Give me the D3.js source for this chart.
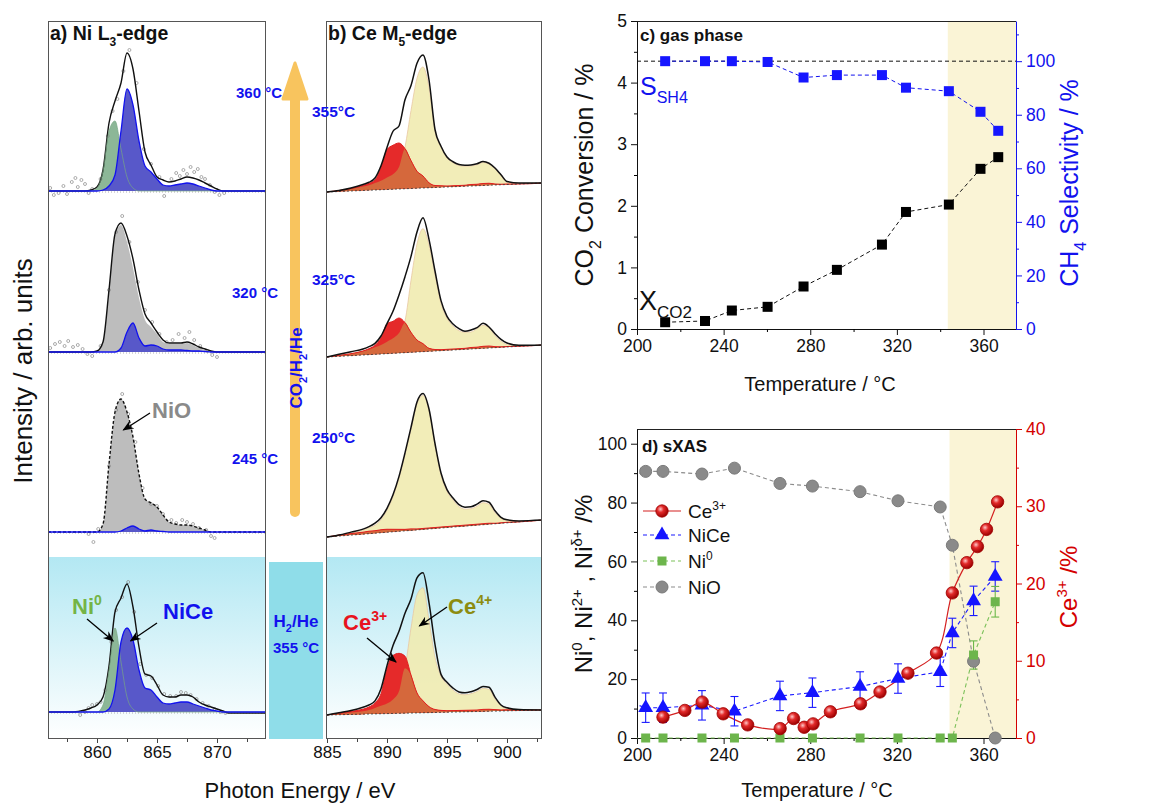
<!DOCTYPE html>
<html>
<head>
<meta charset="utf-8">
<script src="https://cdn.jsdelivr.net/npm/d3@7"></script>
<style>
body { margin: 0; background: #fff; }
svg text { font-family: Arial, "Liberation Sans", Helvetica, sans-serif; }
</style>
</head>
<body>
<svg id="fig" width="1174" height="803"></svg>
<script>
/* === a) Ni L3-edge : photon energy (eV) / intensity (arb. units) === */
var niEnergy = [855.5, 858, 859, 859.5, 860, 860.5, 861, 861.5, 862, 862.5, 863, 863.5, 864, 864.5, 865, 865.5, 866, 866.5, 867, 867.5, 868, 868.5, 869, 869.5, 870, 870.5, 871, 874.5];

var ni360Total = [0,0,0,1,4,21,68,90,108,138,122,80,39,26,14,11,9,10,12,14,13,11,8,5,2,0,0,0];
var ni360Ni0   = [0,0,0,0,3,20,60,70,42,14,3,0,0,0,0,0,0,0,0,0,0,0,0,0,0,0,0,0];
var ni360NiCe  = [0,0,0,0,0,1,5,16,60,102,86,50,25,19,12,6,5,6,7,8,7,5,3,1,0,0,0,0];

var ni320Total = [0,0,0,0,1,10,62,118,129,116,93,62,38,29,20,12,9,9,9,10,8,5,3,1,0,0,0,0];
var ni320NiO   = [0,0,0,0,1,10,60,116,127,110,84,54,32,25,18,10,8,8,8,9,7,4,2,1,0,0,0,0];
var ni320NiCe  = [0,0,0,0,0,0,0,0,4,20,29,14,6,7,6,3,2,2,2,1.5,1,1,0.5,0,0,0,0,0];

var ni245Total = [0,0,0,0,0,8,68,120,133,120,95,58,33,29,25,17,10,8,7,7,6,4,2,0,0,0,0,0];
var ni245NiCe  = [0,0,0,0,0,0,0,0,1,4,6,3,1,2,1,0.5,0,0,0,0,0,0,0,0,0,0,0,0];

var niH2Total  = [0,0,2,4,7,15,46,100,114,128,105,65,38,36,27,17,15,15,17,17,15,10,7,5,3,1,-1,-1];
var niH2Ni0    = [0,0,0,0,0,7,42,84,50,15,3,0,0,0,0,0,0,0,0,0,0,0,0,0,0,0,0,0];
var niH2NiCe   = [0,0,0,0,0,0,3,22,70,84,72,42,24,22,15,9,8,9,10,10,8,6,4,2,1,0,0,0];

// measured points [eV, intensity]
var ni360Dots = [[856.1,3],[856.4,-4],[856.8,-2],[857.2,5],[857.5,-3],[857.9,9],[858.2,13],[858.4,4],[858.7,11],[859,7],[859.3,-2],[859.6,2],[860.3,12],[860.9,55],[861.3,80],[861.7,92],[862.2,120],[862.7,141],[863.3,108],[863.9,42],[864.5,27],[865.2,14],[865.6,-5],[866.2,12],[866.6,18],[866.9,15],[867.2,21],[867.5,17],[867.8,24],[868.1,19],[868.4,22],[868.7,14],[869,12],[869.4,6],[869.8,-1],[870.2,-4],[870.6,-2]];
var ni320Dots = [[856.1,4],[856.5,8],[856.9,10],[857.3,6],[857.6,11],[858,5],[858.4,7],[858.8,3],[859.2,-2],[859.6,-4],[860.3,6],[861,62],[861.6,120],[862.1,136],[862.7,110],[863.4,70],[864,42],[864.6,30],[865.2,18],[865.8,10],[866.3,12],[866.8,18],[867.3,14],[867.7,20],[868.1,12],[868.6,6],[869.2,1],[869.6,-3],[870,-5]];
var ni245Dots = [[859.3,-2],[859.7,-10],[860.1,3],[861,66],[861.6,122],[862.1,138],[862.6,118],[863.2,90],[863.8,44],[864.5,28],[865,26],[865.5,18],[866.2,12],[866.6,9],[867.1,12],[867.5,10],[868,8],[868.5,4],[869.1,2],[869.5,-4],[869.8,-6]];
var niH2Dots  = [[858.6,-3],[859,0],[859.3,4],[859.6,7],[860,8],[860.3,10],[860.7,22],[861.2,70],[861.6,102],[862.1,115],[862.6,130],[863.1,100],[863.6,48],[864.1,37],[864.6,34],[865.1,26],[865.6,18],[866.1,16],[866.6,16],[867,20],[867.4,19],[867.8,17],[868.3,13],[868.8,9],[869.3,6],[869.8,3],[870.3,0],[870.7,-1]];

/* === b) Ce M5-edge === */
var ceEnergy = [885, 886, 887, 888, 888.5, 889, 889.5, 890, 890.5, 891, 891.5, 892, 892.5, 893, 893.5, 894, 894.5, 895, 895.5, 896, 896.5, 897, 897.5, 898, 898.5, 899, 899.5, 900, 901, 903];

var ce355Total = [0,1,3,6,8,12,24,42,58,63,89,103,125,133,108,58,41,30,25,22,21,21,22,24,22,17,10,3,1,0];
var ce355Ce4   = [0,1,2,4,5,7,9,12,15,22,42,78,110,121,100,56,40,29,24,21,20,20,21,23,21,16,9,2,0.5,0];
var ce355Ce3   = [0,1,2.5,5,7,10,22,40,44,46,40,28,17,12,5,2,1.5,1,1,1,1,1.5,1.5,2,2,1,0.5,0.5,0,0];

var ce325Total = [0,2,4,6,8,11,18,30,42,58,76,96,120,134,112,80,50,34,26,21,18,19,21,25,21,14,8,4,1,0];
var ce325Ce4   = [0,1,2,4,5,7,9,12,15,20,32,72,108,123,106,76,47,32,24,19,17,17,20,23,20,12,6,2.5,0.5,0];
var ce325Ce3   = [0,1,2,4,6,9,16,30,32,35,30,20,12,8,3,1.5,1,1,1,1,1,1.5,1.5,2,2,1,0.5,0.5,0,0];

var ce250Total = [0,1,3,5,7,10,15,24,37,55,78,103,128,136,120,85,55,38,29,22,19,19,21,24,22,13,6,3,1,0];
var ce250Ce4   = [0,1,2,4,6,8,13,22,35,53,76,101,126,134,118,83,53,36,27,20,17,17,19,22,20,11,5,2,0.5,0];
var ce250Ce3   = [0,1,1.5,2,2.5,2.5,3,3,2.5,2,1.5,1.5,1,1,1,1,1,1,1,1,1,1,1,1,1,0.5,0.5,0.5,0,0];

var ceH2Total  = [0,2,4,7,9,13,25,48,68,82,100,114,135,140,110,68,38,30,24,20,19,20,22,25,24,14,6,3,1,0];
var ceH2Ce4    = [0,1,2,3,4,6,8,10,14,22,45,85,118,125,92,55,36,28,22,18,17,18,20,23,22,12,5,2,0.5,0];
var ceH2Ce3    = [0,1.5,3,5,7,11,20,45,58,60,57,38,20,12,6,3,2,1.5,1.5,1.5,1.5,1.5,1.5,2,2,1.5,1,1,0.5,0];

// linear background rise from 885 to 903 eV
var ceBgRise = [9, 12, 17, 5];

/* === c) gas phase === */
var gasTemp = [213, 231.4, 243.8, 260.3, 276.9, 292.3, 313.1, 324.2, 344, 358.6, 366.8];
var co2Conv = [0.11, 0.13, 0.30, 0.36, 0.69, 0.96, 1.37, 1.90, 2.02, 2.60, 2.79];
var ch4Sel  = [100, 100, 100, 99.7, 93.9, 94.8, 94.8, 90.1, 88.8, 81.1, 74.0];
var shadeC  = [343.5, 375];

/* === d) sXAS === */
var xasTemp = [192, 204, 212, 230, 245, 266, 281, 303, 320.5, 340, 345.6, 355.4, 365.4];
var niO     = [87.6, 90.6, 90.6, 89.7, 91.7, 86.5, 85.6, 83.7, 80.6, 78.5, 65.5, 26.1, 0];
var niCe    = [13.3, 10.3, 10.3, 11.1, 9.1, 14.3, 15.4, 17.5, 20.2, 22.5, 35.7, 46.6, 54.9];
var niCeErr = [5, 5, 5, 5, 5, 5, 5, 5, 5, 5, 5, 5, 5];
var ni0     = [0, 0, 0, 0, 0, 0, 0, 0, 0, 0, 0, 28.2, 46.3];
var ni0Err  = [0, 0, 0, 0, 0, 0, 0, 0, 0, 0, 0, 4.8, 5.2];
var ceTemp  = [212, 222.1, 230.1, 239.8, 251.1, 266.1, 272.3, 277.2, 281.3, 289.3, 303.2, 312.2, 325.1, 338.3, 345.6, 352.3, 357.2, 361.4, 366.5];
var ce3Frac = [2.7, 3.57, 4.65, 3.13, 1.70, 1.22, 2.52, 1.39, 1.83, 3.39, 4.43, 5.96, 8.39, 11.0, 18.78, 22.7, 24.78, 27.0, 30.57];
var shadeD  = [344.3, 375];


var svg = d3.select("#fig");
var defs = svg.append("defs");
var BLUE = "#1212ee";

defs.append("marker").attr("id", "arr").attr("viewBox", "0 0 10 10")
  .attr("refX", 9).attr("refY", 5).attr("markerWidth", 11).attr("markerHeight", 11)
  .attr("markerUnits", "userSpaceOnUse").attr("orient", "auto")
  .append("path").attr("d", "M0,1 L10,5 L0,9 L3,5 z").attr("fill", "#000");

var grad = defs.append("linearGradient").attr("id", "h2bg")
  .attr("x1", 0).attr("y1", 0).attr("x2", 0).attr("y2", 1);
grad.append("stop").attr("offset", "0%").attr("stop-color", "#b3e8f3");
grad.append("stop").attr("offset", "100%").attr("stop-color", "#ffffff");

var ball = defs.append("radialGradient").attr("id", "ball")
  .attr("cx", "38%").attr("cy", "35%").attr("r", "65%");
ball.append("stop").attr("offset", "0%").attr("stop-color", "#ffc8c8");
ball.append("stop").attr("offset", "40%").attr("stop-color", "#e22a2a");
ball.append("stop").attr("offset", "100%").attr("stop-color", "#9c0000");

defs.append("clipPath").attr("id", "clipA").append("rect").attr("x", 48).attr("y", 21).attr("width", 218).attr("height", 718);
defs.append("clipPath").attr("id", "clipB").append("rect").attr("x", 326).attr("y", 21).attr("width", 216).attr("height", 718);
defs.append("clipPath").attr("id", "clipD").append("rect").attr("x", 637).attr("y", 400).attr("width", 379).attr("height", 360);

// text with sub/superscripts : parts = [[text, "sub"|"sup"|undefined], ...]
function label(x, y, parts, fs, color, weight, anchor, rot) {
  var t = svg.append("text")
    .attr("font-size", fs).attr("fill", color || "#000")
    .attr("font-weight", weight || "normal")
    .attr("text-anchor", anchor || "start");
  if (rot) t.attr("transform", "translate(" + x + "," + y + ") rotate(" + rot + ")");
  else t.attr("x", x).attr("y", y);
  if (typeof parts === "string") parts = [[parts]];
  var shift = 0;
  parts.forEach(function(p) {
    var s = p[1] === "sub" ? 0.3 : (p[1] === "sup" ? -0.42 : 0);
    var ts = t.append("tspan").text(p[0]);
    if (s !== shift) ts.attr("dy", ((s - shift) * fs).toFixed(1));
    if (p[1]) ts.attr("font-size", Math.round(fs * 0.62));
    shift = s;
  });
  return t;
}

function styleAxis(g, color, fs) {
  g.attr("font-family", null).attr("font-size", fs);
  g.selectAll("path.domain").attr("stroke", color);
  g.selectAll(".tick line").attr("stroke", color);
  g.selectAll(".tick text").attr("fill", color);
  return g;
}
function minor(axis, vals, size) {
  return axis.tickValues(vals).tickSize(size).tickFormat("").tickSizeOuter(0);
}
var fmt = d3.format("d");


/* ================= a) + b) spectra ================= */

var xA = d3.scaleLinear().domain([860, 870]).range([97, 217]);
var xB = d3.scaleLinear().domain([890, 900]).range([387, 507]);
var slotA = [191, 352, 532, 712];
var slotB = [192, 357, 537, 715];

// H2/He backgrounds
svg.append("rect").attr("x", 48).attr("y", 557).attr("width", 218).attr("height", 182).attr("fill", "url(#h2bg)");
svg.append("rect").attr("x", 326).attr("y", 557).attr("width", 216).attr("height", 182).attr("fill", "url(#h2bg)");
svg.append("rect").attr("x", 269).attr("y", 562).attr("width", 54).attr("height", 177).attr("fill", "#8fdde9");

var specA = [
  {total: ni360Total, dash: null, dots: ni360Dots,
   parts: [{v: ni360Ni0, fill: "#8cb797", stroke: "#77a683"}, {v: ni360NiCe, fill: "#5858c9", stroke: BLUE}]},
  {total: ni320Total, dash: null, dots: ni320Dots,
   parts: [{v: ni320NiO, fill: "#bdbdbd", stroke: "none"}, {v: ni320NiCe, fill: "#5858c9", stroke: BLUE}]},
  {total: ni245Total, dash: "3,2", dots: ni245Dots,
   parts: [{v: ni245Total, fill: "#bdbdbd", stroke: "none"}, {v: ni245NiCe, fill: "#5858c9", stroke: BLUE}]},
  {total: niH2Total, dash: null, dots: niH2Dots,
   parts: [{v: niH2Ni0, fill: "#8cb797", stroke: "#77a683"}, {v: niH2NiCe, fill: "#5858c9", stroke: BLUE}]}
];

var gA = svg.append("g").attr("clip-path", "url(#clipA)");
specA.forEach(function(s, k) {
  var y = d3.scaleLinear().domain([0, 150]).range([slotA[k], slotA[k] - 150]);
  var area = d3.area().x(function(d, i) { return xA(niEnergy[i]); })
    .y0(y(0)).y1(function(d) { return y(d); }).curve(d3.curveMonotoneX);
  var line = d3.line().x(function(d, i) { return xA(niEnergy[i]); })
    .y(function(d) { return y(d); }).curve(d3.curveMonotoneX);

  gA.append("line").attr("x1", 48).attr("x2", 266).attr("y1", y(0) + 1).attr("y2", y(0) + 1)
    .attr("stroke", "#999").attr("stroke-dasharray", "1,2").attr("stroke-width", 0.8);

  s.parts.forEach(function(p) {
    gA.append("path").datum(p.v).attr("d", area).attr("fill", p.fill);
  });
  gA.selectAll(null).data(s.dots).enter().append("circle")
    .attr("cx", function(d) { return xA(d[0]); })
    .attr("cy", function(d) { return y(d[1]); })
    .attr("r", 1.5).attr("fill", "none").attr("stroke", "#8a8a8a").attr("stroke-width", 0.7);
  gA.append("path").datum(s.total).attr("d", line).attr("fill", "none")
    .attr("stroke", "#111").attr("stroke-width", 1.4).attr("stroke-dasharray", s.dash);
  s.parts.forEach(function(p) {
    if (p.stroke !== "none")
      gA.append("path").datum(p.v).attr("d", line).attr("fill", "none")
        .attr("stroke", p.stroke).attr("stroke-width", p.stroke === BLUE ? 1.3 : 0.7);
  });
});

var specB = [
  {total: ce355Total, ce4: ce355Ce4, ce3: ce355Ce3},
  {total: ce325Total, ce4: ce325Ce4, ce3: ce325Ce3},
  {total: ce250Total, ce4: ce250Ce4, ce3: ce250Ce3},
  {total: ceH2Total, ce4: ceH2Ce4, ce3: ceH2Ce3}
];

var gB = svg.append("g").attr("clip-path", "url(#clipB)");
specB.forEach(function(s, k) {
  var y = d3.scaleLinear().domain([0, 150]).range([slotB[k], slotB[k] - 150]);
  var bg = d3.scaleLinear().domain([885, 903]).range([0, ceBgRise[k]]);
  var area = d3.area().x(function(d, i) { return xB(ceEnergy[i]); })
    .y0(function(d, i) { return y(bg(ceEnergy[i])); })
    .y1(function(d, i) { return y(bg(ceEnergy[i]) + d); }).curve(d3.curveMonotoneX);
  var line = d3.line().x(function(d, i) { return xB(ceEnergy[i]); })
    .y(function(d, i) { return y(bg(ceEnergy[i]) + d); }).curve(d3.curveMonotoneX);
  var overlap = s.ce3.map(function(v, i) { return Math.min(v, s.ce4[i]); });

  gB.append("path").datum(s.ce4).attr("d", area).attr("fill", "#f0ebae").attr("fill-opacity", 0.88);
  gB.append("path").datum(s.ce4).attr("d", line).attr("fill", "none").attr("stroke", "#e9c8a2").attr("stroke-width", 0.8);
  gB.append("path").datum(s.ce3).attr("d", area).attr("fill", "#e52a2a");
  gB.append("path").datum(overlap).attr("d", area).attr("fill", "#d5683c");
  gB.append("path").datum(s.ce3).attr("d", line).attr("fill", "none").attr("stroke", "#e02020").attr("stroke-width", 1);
  gB.append("path").datum([0, 0]).attr("d", d3.line()
      .x(function(d, i) { return xB(i ? 903 : 885); })
      .y(function(d, i) { return y(bg(i ? 903 : 885)); }))
    .attr("stroke", "#333").attr("stroke-width", 0.8).attr("stroke-dasharray", "2,2");
  gB.append("path").datum(s.total).attr("d", line).attr("fill", "none")
    .attr("stroke", "#111").attr("stroke-width", 1.5);
});

// frames + energy axes
svg.append("rect").attr("x", 48.5).attr("y", 21.5).attr("width", 217).attr("height", 717)
  .attr("fill", "none").attr("stroke", "#555");
svg.append("rect").attr("x", 326.5).attr("y", 21.5).attr("width", 215).attr("height", 717)
  .attr("fill", "none").attr("stroke", "#555");

styleAxis(svg.append("g").attr("transform", "translate(0,739)")
  .call(d3.axisBottom(xA).tickValues([860, 865, 870]).tickSize(4).tickPadding(3).tickSizeOuter(0)), "#333", 17)
  .select("path.domain").remove();
svg.append("g").attr("transform", "translate(0,739)")
  .call(minor(d3.axisBottom(xA), [857.5, 862.5, 867.5, 872.5], 3)).select("path.domain").remove();
styleAxis(svg.append("g").attr("transform", "translate(0,739)")
  .call(d3.axisBottom(xB).tickValues([885, 890, 895, 900]).tickSize(4).tickPadding(3).tickSizeOuter(0)), "#333", 17)
  .select("path.domain").remove();
svg.append("g").attr("transform", "translate(0,739)")
  .call(minor(d3.axisBottom(xB), [887.5, 892.5, 897.5, 902.5], 3)).select("path.domain").remove();
svg.selectAll(".tick line").attr("stroke", "#444");
svg.selectAll(".tick text").attr("fill", "#111");

// gas switch arrow
svg.append("rect").attr("x", 290).attr("y", 90).attr("width", 10).attr("height", 427).attr("rx", 5)
  .attr("fill", "#f8c45e");
svg.append("path").attr("d", "M295,63 L307,99 L283,99 Z").attr("fill", "#f8c45e")
  .attr("stroke", "#f8c45e").attr("stroke-width", 3).attr("stroke-linejoin", "round");

// panel a/b texts
label(50, 40, [["a) Ni L"], ["3", "sub"], ["-edge"]], 19.5, "#111", "bold");
label(328, 40, [["b) Ce M"], ["5", "sub"], ["-edge"]], 19.5, "#111", "bold");
label(282, 98, "360 °C", 15, BLUE, "bold", "end");
label(278, 298, "320 °C", 15, BLUE, "bold", "end");
label(278, 464, "245 °C", 15, BLUE, "bold", "end");
label(312, 117, "355°C", 15.5, BLUE, "bold");
label(312, 285, "325°C", 15.5, BLUE, "bold");
label(312, 443, "250°C", 15.5, BLUE, "bold");
label(302, 368, [["CO"], ["2", "sub"], ["/H"], ["2", "sub"], ["/He"]], 17, BLUE, "bold", "middle", -90);
label(296, 627, [["H"], ["2", "sub"], ["/He"]], 17, BLUE, "bold", "middle");
label(296, 653, "355 °C", 15, BLUE, "bold", "middle");

label(152, 418, "NiO", 22, "#8a8a8a", "bold");
label(72, 614, [["Ni"], ["0", "sup"]], 22, "#74b446", "bold");
label(163, 619, "NiCe", 22, BLUE, "bold");
label(343, 630, [["Ce"], ["3+", "sup"]], 22, "#e8141e", "bold");
label(448, 614, [["Ce"], ["4+", "sup"]], 22, "#8c8c10", "bold");

function pointer(x1, y1, x2, y2) {
  svg.append("line").attr("x1", x1).attr("y1", y1).attr("x2", x2).attr("y2", y2)
    .attr("stroke", "#000").attr("stroke-width", 1.3).attr("marker-end", "url(#arr)");
}
var yA3 = d3.scaleLinear().domain([0, 150]).range([slotA[2], slotA[2] - 150]);
var yA4 = d3.scaleLinear().domain([0, 150]).range([slotA[3], slotA[3] - 150]);
var yB4 = d3.scaleLinear().domain([0, 150]).range([slotB[3], slotB[3] - 150]);
pointer(150, 413, xA(862.2), yA3(102));
pointer(87, 619, xA(861.35), yA4(71));
pointer(157, 623, xA(862.8), yA4(71));
pointer(367, 638, xB(890.75), yB4(53));
pointer(447, 607, xB(892.7), yB4(89));

label(32, 371, "Intensity / arb. units", 26, "#111", "normal", "middle", -90);
label(300, 798, "Photon Energy / eV", 22, "#111", "normal", "middle");


/* ================= c) gas phase ================= */

var xT = d3.scaleLinear().domain([200, 375]).range([637, 1016]);
var yConv = d3.scaleLinear().domain([0, 5]).range([329, 21]);
var ySel = d3.scaleLinear().domain([0, 115]).range([329, 21]);

svg.append("rect").attr("x", xT(shadeC[0])).attr("y", yConv(5))
  .attr("width", xT(shadeC[1]) - xT(shadeC[0])).attr("height", yConv(0) - yConv(5)).attr("fill", "#faf4d6");
svg.append("line").attr("x1", xT(200)).attr("x2", xT(375)).attr("y1", yConv(5) + 0.5).attr("y2", yConv(5) + 0.5)
  .attr("stroke", "#222");

styleAxis(svg.append("g").attr("transform", "translate(0,329)")
  .call(d3.axisBottom(xT).tickValues([200, 240, 280, 320, 360]).tickFormat(fmt).tickSize(6).tickPadding(5).tickSizeOuter(0)), "#111", 17.5);
svg.append("g").attr("transform", "translate(0,329)").call(minor(d3.axisBottom(xT), [220, 260, 300, 340], 3))
  .select("path.domain").remove();
styleAxis(svg.append("g").attr("transform", "translate(637,0)")
  .call(d3.axisLeft(yConv).tickValues([0, 1, 2, 3, 4, 5]).tickFormat(fmt).tickSize(6).tickPadding(4).tickSizeOuter(0)), "#111", 17.5);
svg.append("g").attr("transform", "translate(637,0)").call(minor(d3.axisLeft(yConv), [0.5, 1.5, 2.5, 3.5, 4.5], 3))
  .select("path.domain").remove();
styleAxis(svg.append("g").attr("transform", "translate(1016,0)")
  .call(d3.axisRight(ySel).tickValues([0, 20, 40, 60, 80, 100]).tickFormat(fmt).tickSize(6).tickPadding(4).tickSizeOuter(0)), BLUE, 17.5);
styleAxis(svg.append("g").attr("transform", "translate(1016,0)")
  .call(minor(d3.axisRight(ySel), [10, 30, 50, 70, 90, 110], 3)), BLUE, 17).select("path.domain").remove();

svg.append("line").attr("x1", xT(200)).attr("x2", xT(375)).attr("y1", ySel(100)).attr("y2", ySel(100))
  .attr("stroke", "#111").attr("stroke-dasharray", "4,3");

svg.append("path").datum(d3.zip(gasTemp, ch4Sel))
  .attr("d", d3.line().x(function(d) { return xT(d[0]); }).y(function(d) { return ySel(d[1]); }))
  .attr("fill", "none").attr("stroke", BLUE).attr("stroke-dasharray", "4,3");
svg.append("path").datum(d3.zip(gasTemp, co2Conv))
  .attr("d", d3.line().x(function(d) { return xT(d[0]); }).y(function(d) { return yConv(d[1]); }))
  .attr("fill", "none").attr("stroke", "#111").attr("stroke-dasharray", "4,3");

svg.selectAll(null).data(d3.zip(gasTemp, ch4Sel)).enter().append("rect")
  .attr("x", function(d) { return xT(d[0]) - 5; }).attr("y", function(d) { return ySel(d[1]) - 5; })
  .attr("width", 10).attr("height", 10).attr("fill", "#1616ff");
svg.selectAll(null).data(d3.zip(gasTemp, co2Conv)).enter().append("rect")
  .attr("x", function(d) { return xT(d[0]) - 5; }).attr("y", function(d) { return yConv(d[1]) - 5; })
  .attr("width", 10).attr("height", 10).attr("fill", "#000");

label(640, 41, "c) gas phase", 17, "#111", "bold");
label(640, 95, [["S"], ["SH4", "sub"]], 25, BLUE);
label(639, 310, [["X"], ["CO2", "sub"]], 27, "#111");
label(593, 175, [["CO"], ["2", "sub"], [" Conversion / %"]], 25, "#111", "normal", "middle", -90);
label(1078, 183, [["CH"], ["4", "sub"], [" Selectivity / %"]], 25, BLUE, "normal", "middle", -90);
label(820, 391, "Temperature / °C", 20, "#111", "normal", "middle");


/* ================= d) sXAS ================= */

var yNi = d3.scaleLinear().domain([0, 105]).range([738, 429]);
var yCe = d3.scaleLinear().domain([0, 40]).range([738, 429]);
var RED = "#d40000";

svg.append("rect").attr("x", xT(shadeD[0])).attr("y", yCe(40))
  .attr("width", xT(shadeD[1]) - xT(shadeD[0])).attr("height", yCe(0) - yCe(40)).attr("fill", "#faf4d6");
svg.append("line").attr("x1", xT(200)).attr("x2", xT(375)).attr("y1", yCe(40) + 0.5).attr("y2", yCe(40) + 0.5)
  .attr("stroke", "#222");

styleAxis(svg.append("g").attr("transform", "translate(0,738)")
  .call(d3.axisBottom(xT).tickValues([200, 240, 280, 320, 360]).tickFormat(fmt).tickSize(6).tickPadding(5).tickSizeOuter(0)), "#111", 17.5);
svg.append("g").attr("transform", "translate(0,738)").call(minor(d3.axisBottom(xT), [220, 260, 300, 340], 3))
  .select("path.domain").remove();
styleAxis(svg.append("g").attr("transform", "translate(637,0)")
  .call(d3.axisLeft(yNi).tickValues([0, 20, 40, 60, 80, 100]).tickFormat(fmt).tickSize(6).tickPadding(4).tickSizeOuter(0)), "#111", 17.5);
svg.append("g").attr("transform", "translate(637,0)").call(minor(d3.axisLeft(yNi), [10, 30, 50, 70, 90], 3))
  .select("path.domain").remove();
styleAxis(svg.append("g").attr("transform", "translate(1016,0)")
  .call(d3.axisRight(yCe).tickValues([0, 10, 20, 30, 40]).tickFormat(fmt).tickSize(6).tickPadding(4).tickSizeOuter(0)), RED, 17.5);
styleAxis(svg.append("g").attr("transform", "translate(1016,0)")
  .call(minor(d3.axisRight(yCe), [5, 15, 25, 35], 3)), RED, 17).select("path.domain").remove();

var gD = svg.append("g").attr("clip-path", "url(#clipD)");
function niLine(vals, color) {
  gD.append("path").datum(d3.zip(xasTemp, vals))
    .attr("d", d3.line().x(function(d) { return xT(d[0]); }).y(function(d) { return yNi(d[1]); }))
    .attr("fill", "none").attr("stroke", color).attr("stroke-width", 1.1).attr("stroke-dasharray", "4,3");
}
niLine(niO, "#8c8c8c");
niLine(ni0, "#7cc15a");
niLine(niCe, "#1a1aff");
gD.append("path").datum(d3.zip(ceTemp, ce3Frac))
  .attr("d", d3.line().x(function(d) { return xT(d[0]); }).y(function(d) { return yCe(d[1]); })
    .curve(d3.curveCatmullRom.alpha(0.5)))
  .attr("fill", "none").attr("stroke", "#d42020").attr("stroke-width", 1.2);

function errBars(vals, errs, color) {
  var pts = d3.zip(xasTemp, vals, errs).filter(function(d) { return d[0] >= 200 && d[2] > 0; });
  var g = svg.append("g").attr("stroke", color).attr("stroke-width", 1.1);
  pts.forEach(function(d) {
    var x = xT(d[0]);
    g.append("line").attr("x1", x).attr("x2", x).attr("y1", yNi(d[1] - d[2])).attr("y2", yNi(d[1] + d[2]));
    g.append("line").attr("x1", x - 4).attr("x2", x + 4).attr("y1", yNi(d[1] - d[2])).attr("y2", yNi(d[1] - d[2]));
    g.append("line").attr("x1", x - 4).attr("x2", x + 4).attr("y1", yNi(d[1] + d[2])).attr("y2", yNi(d[1] + d[2]));
  });
}
errBars(niCe, niCeErr, "#1a1aff");
errBars(ni0, ni0Err, "#6cb84a");

var shown = function(d) { return d[0] >= 200; };
svg.selectAll(null).data(d3.zip(xasTemp, niO).filter(shown)).enter().append("circle")
  .attr("cx", function(d) { return xT(d[0]); }).attr("cy", function(d) { return yNi(d[1]); })
  .attr("r", 6).attr("fill", "#8a8a8a").attr("stroke", "#7a7a7a");
svg.selectAll(null).data(d3.zip(xasTemp, ni0).filter(shown)).enter().append("rect")
  .attr("x", function(d) { return xT(d[0]) - 4.5; }).attr("y", function(d) { return yNi(d[1]) - 4.5; })
  .attr("width", 9).attr("height", 9).attr("fill", "#6db54c");
svg.selectAll(null).data(d3.zip(xasTemp, niCe).filter(shown)).enter().append("path")
  .attr("transform", function(d) { return "translate(" + xT(d[0]) + "," + yNi(d[1]) + ")"; })
  .attr("d", d3.symbol(d3.symbolTriangle, 95)).attr("fill", "#1414ff");
svg.selectAll(null).data(d3.zip(ceTemp, ce3Frac)).enter().append("circle")
  .attr("cx", function(d) { return xT(d[0]); }).attr("cy", function(d) { return yCe(d[1]); })
  .attr("r", 6.2).attr("fill", "url(#ball)").attr("stroke", "#a00000").attr("stroke-width", 0.8);

// legend
var legend = [
  {name: [["Ce"], ["3+", "sup"]], color: "#d42020", dash: null, mark: "ball", y: 511},
  {name: "NiCe", color: "#1a1aff", dash: "4,3", mark: "tri", y: 535},
  {name: [["Ni"], ["0", "sup"]], color: "#7cc15a", dash: "4,3", mark: "sq", y: 561},
  {name: "NiO", color: "#8c8c8c", dash: "4,3", mark: "dot", y: 587}
];
legend.forEach(function(l) {
  svg.append("line").attr("x1", 643).attr("x2", 681).attr("y1", l.y).attr("y2", l.y)
    .attr("stroke", l.color).attr("stroke-width", 1.1).attr("stroke-dasharray", l.dash);
  if (l.mark === "ball") svg.append("circle").attr("cx", 662).attr("cy", l.y).attr("r", 6.2)
    .attr("fill", "url(#ball)").attr("stroke", "#a00000").attr("stroke-width", 0.8);
  if (l.mark === "tri") svg.append("path").attr("transform", "translate(662," + l.y + ")")
    .attr("d", d3.symbol(d3.symbolTriangle, 95)).attr("fill", "#1414ff");
  if (l.mark === "sq") svg.append("rect").attr("x", 657.5).attr("y", l.y - 4.5).attr("width", 9).attr("height", 9)
    .attr("fill", "#6db54c");
  if (l.mark === "dot") svg.append("circle").attr("cx", 662).attr("cy", l.y).attr("r", 6)
    .attr("fill", "#8a8a8a").attr("stroke", "#7a7a7a");
  label(688, l.y + 7, l.name, 19, "#111");
});

label(642, 452, "d) sXAS", 17, "#111", "bold");
label(592, 584, [["Ni"], ["0", "sup"], [", Ni"], ["2+", "sup"], [" , Ni"], ["δ+", "sup"], [" /%"]], 24, "#111", "normal", "middle", -90);
label(1077, 587, [["Ce"], ["3+", "sup"], ["  /%"]], 24, RED, "normal", "middle", -90);
label(817, 797, "Temperature / °C", 20, "#111", "normal", "middle");
</script>
</body>
</html>
